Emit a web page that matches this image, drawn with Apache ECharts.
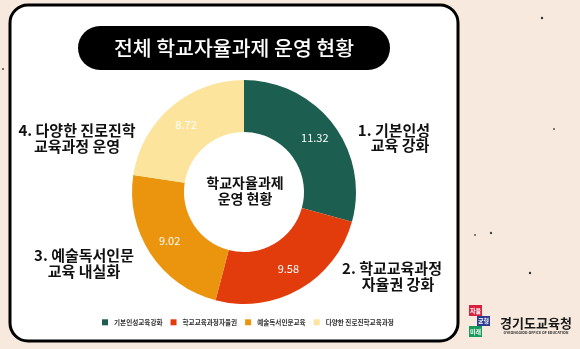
<!DOCTYPE html>
<html>
<head>
<meta charset="utf-8">
<script src="https://cdn.jsdelivr.net/npm/echarts@6/dist/echarts.min.js"></script>
<style>
html,body{margin:0;padding:0;background:#f7e9dd;}
#c{width:580px;height:349px;}
</style>
</head>
<body>
<div id="c"></div>
<script>
// ---- data ----
const categories = ['기본인성교육강화', '학교교육과정자율권', '예술독서인문교육', '다양한 진로진학교육과정'];
const values = [11.32, 9.58, 9.02, 8.72];
const colors = ['#1c5e50', '#e23c0c', '#eb950f', '#fce49c'];
const titleText = '전체 학교자율과제 운영 현황';
const centerText = '학교자율과제\n운영 현황';
const outerLabel1 = ['1. 기본인성', '교육 강화'];
const outerLabel2 = ['2. 학교교육과정', '자율권 강화'];
const outerLabel3 = ['3. 예술독서인문', '교육 내실화'];
const outerLabel4 = ['4. 다양한 진로진학', '교육과정 운영'];
const logoText = '경기도교육청';
const logoSub = 'GYEONGGIDO OFFICE OF EDUCATION';

const FONT = '"Noto Sans CJK KR", "Noto Sans", sans-serif';

function labelLines(lines, xs, ys) {
  return lines.map((t, i) => ({
    type: 'text', z: 10,
    style: { text: t, x: xs[i], y: ys[i], align: 'center', verticalAlign: 'middle',
      fill: '#111', font: 'bold 15px ' + FONT }
  }));
}

const chart = echarts.init(document.getElementById('c'), null, {renderer: 'canvas'});
chart.setOption({
  backgroundColor: '#f7e9dd',
  animation: false,
  color: colors,
  legend: {
    data: categories,
    left: 97, top: 314,
    icon: 'rect', itemWidth: 6, itemHeight: 6, itemGap: 8,
    textStyle: { fontSize: 6.6, color: '#333', fontFamily: FONT, fontWeight: 'bold', padding: [0,0,0,1] }
  },
  series: [{
    type: 'pie',
    center: [244, 192],
    radius: [60, 112],
    startAngle: 90,
    clockwise: true,
    silent: true,
    z: 5,
    label: { show: true, position: 'inside', color: '#fff', fontSize: 11, fontFamily: FONT,
      formatter: p => p.value.toFixed(2) },
    labelLine: { show: false },
    itemStyle: { borderWidth: 0 },
    data: categories.map((n, i) => ({ name: n, value: values[i] }))
  }],
  graphic: [
    { type: 'rect', z: -10, shape: { x: 10, y: 5, width: 448, height: 336, r: 18 },
      style: { fill: '#fff', stroke: '#000', lineWidth: 3 } },
    { type: 'rect', z: 1, shape: { x: 78, y: 26, width: 312, height: 44, r: 22 },
      style: { fill: '#000' } },
    { type: 'text', z: 2, style: { text: titleText, x: 234, y: 48, align: 'center', verticalAlign: 'middle',
      fill: '#fff', font: '500 20.5px ' + FONT } },
    { type: 'text', z: 10, style: { text: centerText, x: 245, y: 191, align: 'center', verticalAlign: 'middle',
      fill: '#111', font: 'bold 14px ' + FONT, lineHeight: 16 } },
    ...labelLines(outerLabel1, [394, 400], [130, 145]),
    ...labelLines(outerLabel2, [392, 398], [268, 284]),
    ...labelLines(outerLabel3, [84, 84], [255, 271]),
    ...labelLines(outerLabel4, [77, 77], [130, 146]),
    // logo
    { type: 'rect', shape: { x: 469, y: 305, width: 13, height: 11 }, style: { fill: '#d6203d' } },
    { type: 'text', style: { text: '자율', x: 475.5, y: 310.5, align: 'center', verticalAlign: 'middle', fill: '#fff', font: 'bold 6px ' + FONT } },
    { type: 'rect', shape: { x: 477, y: 316, width: 13, height: 10 }, style: { fill: '#2b3a8f' } },
    { type: 'text', style: { text: '균형', x: 483.5, y: 321, align: 'center', verticalAlign: 'middle', fill: '#fff', font: 'bold 6px ' + FONT } },
    { type: 'rect', shape: { x: 469, y: 326, width: 13, height: 11 }, style: { fill: '#189a5c' } },
    { type: 'text', style: { text: '미래', x: 475.5, y: 331.5, align: 'center', verticalAlign: 'middle', fill: '#fff', font: 'bold 6px ' + FONT } },
    { type: 'text', style: { text: logoText, x: 536, y: 323, align: 'center', verticalAlign: 'middle', fill: '#1a1a1a', font: 'bold 13px ' + FONT } },
    { type: 'text', style: { text: logoSub, x: 536, y: 333, align: 'center', verticalAlign: 'middle', fill: '#333', font: 'bold 3.6px ' + FONT } },
    // speckles
    { type: 'circle', shape: { cx: 542, cy: 18, r: 1.2 }, style: { fill: '#333' } },
    { type: 'circle', shape: { cx: 491, cy: 233, r: 1.2 }, style: { fill: '#444' } },
    { type: 'circle', shape: { cx: 475, cy: 235, r: 1 }, style: { fill: '#555' } },
    { type: 'circle', shape: { cx: 530, cy: 273, r: 1.2 }, style: { fill: '#333' } },
    { type: 'circle', shape: { cx: 554, cy: 129, r: 1 }, style: { fill: '#555' } },
    { type: 'circle', shape: { cx: 3, cy: 69, r: 1 }, style: { fill: '#444' } }
  ]
});
</script>
</body>
</html>
